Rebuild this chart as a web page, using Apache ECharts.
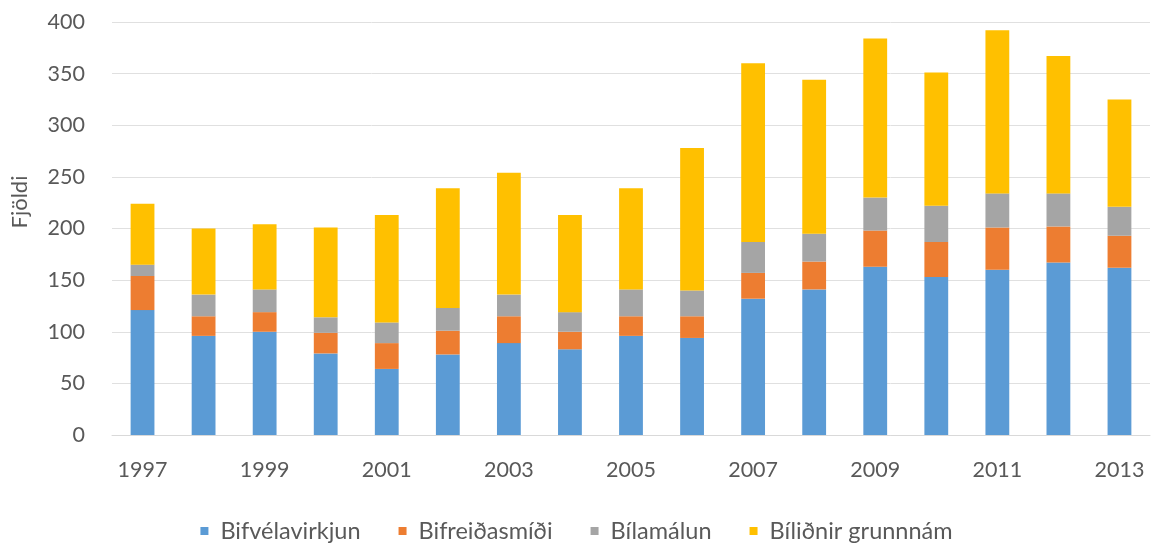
<!DOCTYPE html>
<html><head><meta charset="utf-8">
<script src="https://cdn.jsdelivr.net/npm/echarts@6/dist/echarts.min.js"></script>
<style>html,body{margin:0;padding:0;background:#fff}#c{width:1153px;height:544px}</style>
</head><body><div id="c"></div>
<script>
const years = ['1997','1998','1999','2000','2001','2002','2003','2004','2005','2006','2007','2008','2009','2010','2011','2012','2013'];
const bifvelavirkjun = [121, 96, 100, 79, 64, 78, 89, 83, 96, 94, 132, 141, 163, 153, 160, 167, 162];
const bifreidasmidi  = [33, 19, 19, 20, 25, 23, 26, 17, 19, 21, 25, 27, 35, 34, 41, 35, 31];
const bilamalun      = [11, 21, 22, 15, 20, 22, 21, 19, 26, 25, 30, 27, 32, 35, 33, 32, 28];
const bilidnir       = [59, 64, 63, 87, 104, 116, 118, 94, 98, 138, 173, 149, 154, 129, 158, 133, 104];
const seriesNames = ['Bifvélavirkjun','Bifreiðasmíði','Bílamálun','Bíliðnir grunnnám'];
const colors = ['#5B9BD5','#ED7D31','#A5A5A5','#FFC000'];
const yTicks = {min:0, max:400, interval:50};
const yName = 'Fjöldi';

const font = 'Lato, "Open Sans", sans-serif';
const chart = echarts.init(document.getElementById('c'));
const data = [bifvelavirkjun, bifreidasmidi, bilamalun, bilidnir];
chart.setOption({
  animation:false,
  color: colors,
  grid:{left:112, right:3, top:22, bottom:109},
  legend:{
    bottom:-4, left:'center', icon:'rect', itemWidth:8, itemHeight:8, itemGap:38,
    textStyle:{fontFamily:font, fontSize:23.5, color:'#595959', padding:[0,0,0,7]},
    data: seriesNames
  },
  graphic:[{
    type:'text', x:20, y:202, rotation:Math.PI/2,
    style:{text:yName, fontFamily:font, fontSize:22, fill:'#595959', align:'center', verticalAlign:'middle'}
  }],
  xAxis:{
    type:'category', data:years,
    axisLine:{lineStyle:{color:'#d9d9d9'}},
    axisTick:{show:false},
    axisLabel:{interval:1, margin:24, fontFamily:font, fontSize:21.5, color:'#595959'}
  },
  yAxis:{
    type:'value', min:yTicks.min, max:yTicks.max, interval:yTicks.interval,
    axisLine:{show:false}, axisTick:{show:false},
    splitLine:{lineStyle:{color:'#e0e0e0', width:1}},
    axisLabel:{margin:27, fontFamily:font, fontSize:21.5, color:'#595959'}
  },
  series: seriesNames.map((n,i)=>({
    name:n, type:'bar', stack:'total', data:data[i], barWidth:'39%'
  }))
});
</script></body></html>
